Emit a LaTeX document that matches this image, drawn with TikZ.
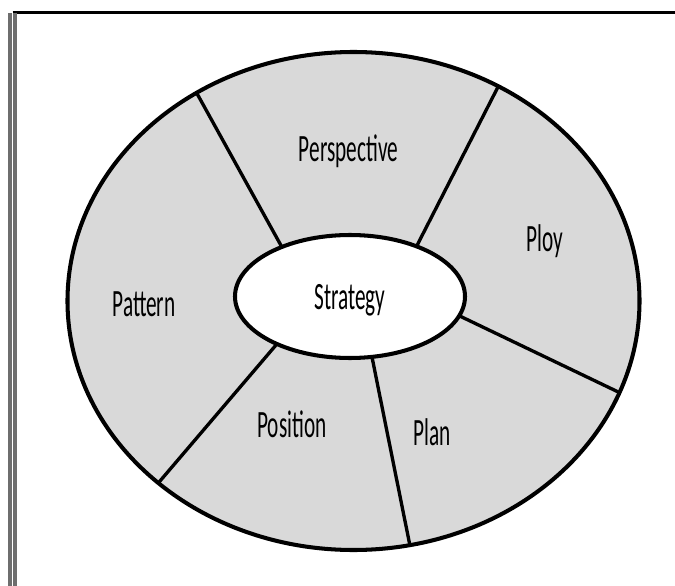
\documentclass[tikz,border=0pt]{standalone}
\usepackage{fontspec}
\usepackage{xcolor}
\usetikzlibrary{shapes.geometric,positioning}
\newfontfamily\labelfont[FakeStretch=0.55]{Carlito}
\definecolor{ringgray}{HTML}{D9D9D9}
\definecolor{framegray}{HTML}{6E6E6E}

\begin{document}
\begin{tikzpicture}[
    ring/.style={ellipse, draw=black, line width=2.3pt, fill=ringgray, inner sep=0pt, outer sep=0pt},
    core/.style={ellipse, draw=black, line width=2.3pt, fill=white, inner sep=0pt, outer sep=0pt, text depth=0pt, font=\labelfont\fontsize{22}{24}\selectfont},
    label/.style={font=\labelfont\fontsize{22}{24}\selectfont, inner sep=0pt},
    spoke/.style={line width=1.9pt, draw=black}
]
    \useasboundingbox (0,0) rectangle (13.5,-11.72);

    % Frame
    \coordinate (topleft) at (0.25,-0.25);
    \coordinate (topright) at (13.5,-0.25);
    \coordinate (bottomleft) at (0.25,-11.72);
    \draw[line width=1.8pt, black] (topleft) -- (topright);
    \draw[line width=2.2pt, framegray, double=white, double distance=0.4pt] (topleft) -- (bottomleft);

    % Outer ring and centre
    \node[ring, minimum width=11.44cm, minimum height=9.96cm] (outer) at (7.07,-6.02) {};
    \node[core, minimum width=4.6cm, minimum height=2.46cm] (strategy) at (7.0,-5.93) {Strategy};

    % Spokes
    \draw[spoke] (strategy.144) -- (outer.127);
    \draw[spoke] (strategy.37) -- (outer.56);
    \draw[spoke] (strategy.-10) -- (outer.-19);
    \draw[spoke] (strategy.-70) -- (outer.-77);
    \draw[spoke] (strategy.-147) -- (outer.-137);

    % Segment labels
    \node[label] (perspective) at (6.97,-3.02) {Perspective};
    \node[label] (ploy) at (10.9,-4.82) {Ploy};
    \node[label] (pattern) at (2.88,-6.08) {Pattern};
    \node[label] (plan) at (8.64,-8.64) {Plan};
    \node[label] (position) at (5.84,-8.48) {Position};
\end{tikzpicture}
\end{document}
